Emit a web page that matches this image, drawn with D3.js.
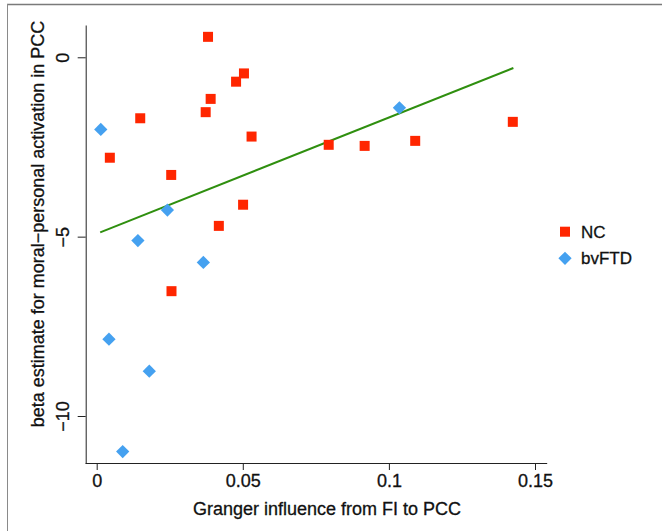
<!DOCTYPE html>
<html>
<head>
<meta charset="utf-8">
<script src="https://cdn.jsdelivr.net/npm/d3@7"></script>
<style>
  html, body { margin: 0; padding: 0; background: #fff; }
  svg { display: block; font-family: "Liberation Sans", Arial, Helvetica, sans-serif; }
  svg text { stroke: #111; stroke-width: 0.3px; }
</style>
</head>
<body>
<svg id="chart" width="662" height="531"></svg>
<script>
// Granger influence (FI -> PCC) vs. beta estimate, by group
const ncX = [0.0381, 0.0504, 0.0477, 0.0390, 0.0373, 0.0149, 0.0530, 0.0045,
             0.0255, 0.0501, 0.0418, 0.0256, 0.0794, 0.0917, 0.1090, 0.1424];
const ncY = [0.57, -0.45, -0.68, -1.16, -1.53, -1.70, -2.21, -2.80,
             -3.28, -4.11, -4.70, -6.52, -2.44, -2.47, -2.33, -1.80];

const ftdX = [0.0014, 0.0242, 0.0141, 0.0365, 0.0042, 0.0180, 0.0089, 0.1036];
const ftdY = [-2.01, -4.26, -5.11, -5.72, -7.86, -8.75, -10.99, -1.41];

// fitted line endpoints
const fitX = [0.0012, 0.1426];
const fitY = [-4.88, -0.30];

const xTicks = [0, 0.05, 0.1, 0.15];
const xTickLabels = ["0", "0.05", "0.1", "0.15"];
const yTicks = [0, -5, -10];
const yTickLabels = ["0", "\u22125", "\u221210"];

const groups = ["NC", "bvFTD"];
const colors = { "NC": "#ff2600", "bvFTD": "#45a1f0" };

const svg = d3.select("#chart");

const x = d3.scaleLinear().domain([-0.004, 0.154]).range([85, 546.7]);
const y = d3.scaleLinear().domain([-11.31, 0.9]).range([463, 25]);

// outer frame (top and left edges)
svg.append("line").attr("x1", 7).attr("x2", 662).attr("y1", 4.5).attr("y2", 4.5)
  .attr("stroke", "#7a7a7a").attr("stroke-width", 1.6);
svg.append("line").attr("x1", 7.5).attr("x2", 7.5).attr("y1", 4).attr("y2", 531)
  .attr("stroke", "#8a8a8a").attr("stroke-width", 1);

// x axis
const xAxis = svg.append("g").attr("transform", "translate(0,463)")
  .call(d3.axisBottom(x).tickValues(xTicks).tickFormat((d, i) => xTickLabels[i])
    .tickSizeInner(7).tickSizeOuter(0));
xAxis.selectAll("text").attr("y", 24).attr("dy", 0)
  .attr("font-size", 18).attr("fill", "#111").attr("font-family", null);

// y axis
const yAxis = svg.append("g").attr("transform", "translate(85.7,0)")
  .call(d3.axisLeft(y).tickValues(yTicks).tickFormat((d, i) => yTickLabels[i])
    .tickSizeInner(8).tickSizeOuter(0));
yAxis.selectAll("text")
  .attr("x", null).attr("dy", 0)
  .attr("text-anchor", "middle")
  .attr("transform", "translate(-17,0) rotate(-90)")
  .attr("font-size", 18).attr("fill", "#111").attr("font-family", null);

svg.selectAll(".domain, .tick line").attr("stroke", "#222").attr("stroke-width", 1);

// axis titles
svg.append("text").attr("x", 327).attr("y", 515).attr("text-anchor", "middle")
  .attr("font-size", 18).attr("fill", "#111")
  .text("Granger influence from FI to PCC");
svg.append("text").attr("transform", "translate(44,224) rotate(-90)")
  .attr("text-anchor", "middle").attr("font-size", 18).attr("fill", "#111")
  .text("beta estimate for moral\u2212personal activation in PCC");

// fitted line
svg.append("line")
  .attr("x1", x(fitX[0])).attr("y1", y(fitY[0]))
  .attr("x2", x(fitX[1])).attr("y2", y(fitY[1]))
  .attr("stroke", "#2f8f0f").attr("stroke-width", 2);

// NC squares
const sq = 10;
svg.append("g").selectAll("rect").data(ncX.map((d, i) => [d, ncY[i]])).join("rect")
  .attr("x", d => x(d[0]) - sq / 2).attr("y", d => y(d[1]) - sq / 2)
  .attr("width", sq).attr("height", sq).attr("fill", colors.NC);

// bvFTD diamonds
const diamond = d3.symbol().type(d3.symbolSquare).size(88);
svg.append("g").selectAll("path").data(ftdX.map((d, i) => [d, ftdY[i]])).join("path")
  .attr("d", diamond)
  .attr("transform", d => `translate(${x(d[0])},${y(d[1])}) rotate(45)`)
  .attr("fill", colors.bvFTD);

// legend
const legend = svg.append("g");
const legY = [231.7, 258.3];
groups.forEach((g, i) => {
  if (g === "NC") {
    legend.append("rect").attr("x", 565 - 5).attr("y", legY[i] - 5)
      .attr("width", 10).attr("height", 10).attr("fill", colors[g]);
  } else {
    legend.append("path").attr("d", diamond)
      .attr("transform", `translate(565,${legY[i]}) rotate(45)`)
      .attr("fill", colors[g]);
  }
  legend.append("text").attr("x", 581).attr("y", legY[i] + 6)
    .attr("font-size", 17).attr("fill", "#111").text(g);
});
</script>
</body>
</html>
